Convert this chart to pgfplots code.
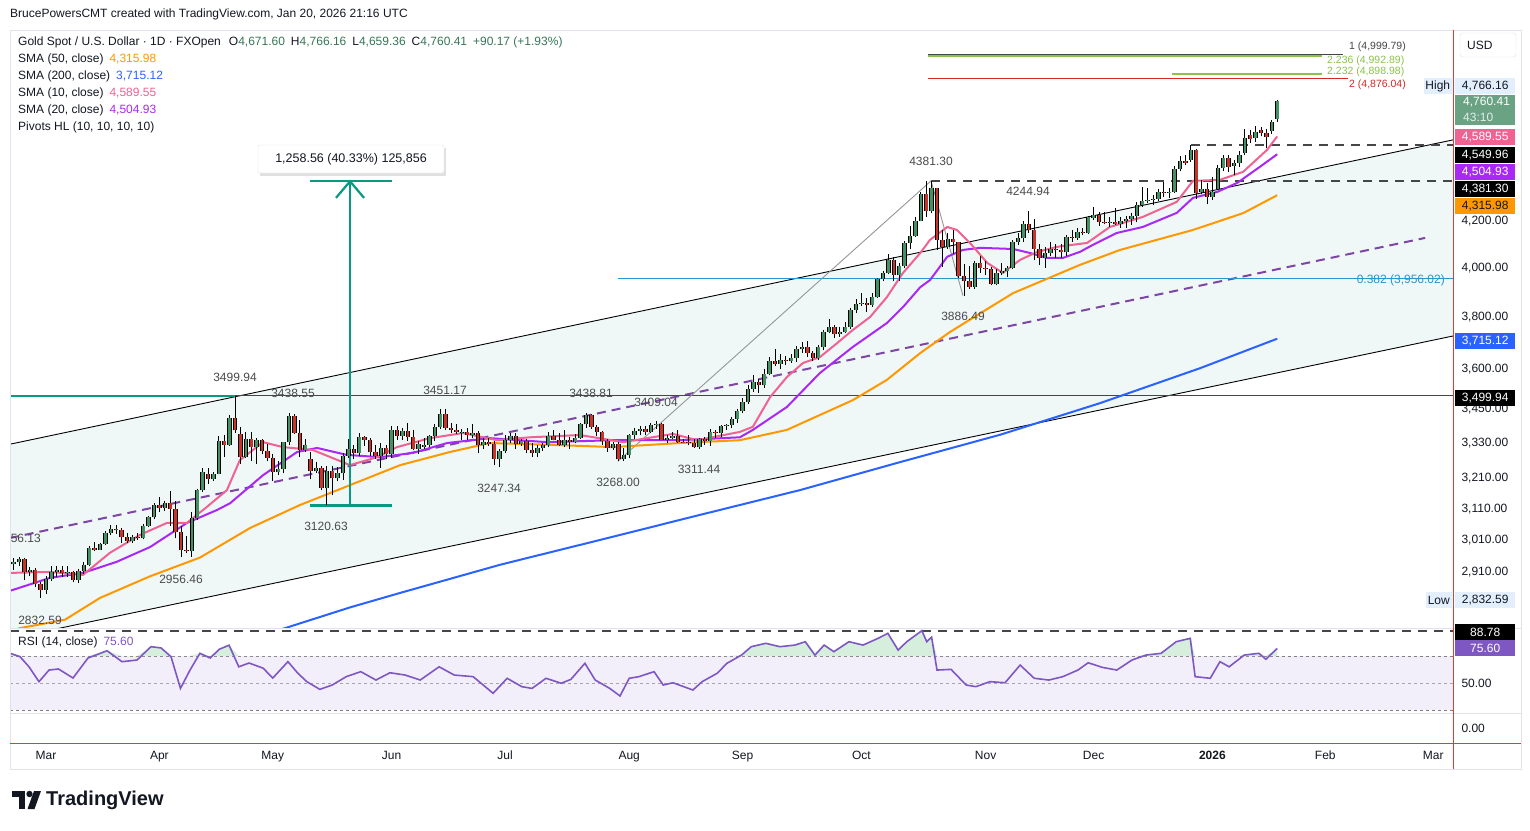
\documentclass[border=0pt]{standalone}
\usepackage{pgfplots}
\pgfplotsset{compat=1.18}
\usepackage{pgfplotstable}
\usepackage{fontspec}
\setmainfont{Liberation Sans}
\definecolor{tvtext}{RGB}{19,23,34}
\definecolor{tvgray}{RGB}{74,74,74}
\definecolor{cgreen}{RGB}{70,145,100}
\definecolor{cred}{RGB}{200,52,42}
\definecolor{smaA}{RGB}{255,152,0}
\definecolor{smaB}{RGB}{41,98,255}
\definecolor{smaC}{RGB}{240,98,146}
\definecolor{smaD}{RGB}{170,40,245}
\definecolor{midline}{RGB}{125,70,165}
\definecolor{chfill}{RGB}{240,247,247}
\definecolor{tvteal}{RGB}{8,153,129}
\definecolor{fibblue}{RGB}{41,150,205}
\definecolor{fibgreen}{RGB}{139,195,74}
\definecolor{fibred}{RGB}{210,40,40}
\definecolor{rsiline}{RGB}{126,87,194}
\definecolor{rsiband}{RGB}{243,239,250}
\definecolor{rsigreen}{RGB}{214,238,220}
\definecolor{frame}{RGB}{224,227,235}
\definecolor{hl}{RGB}{227,239,253}
\definecolor{curgreen}{RGB}{106,163,132}
\definecolor{ohlc}{RGB}{56,118,88}
\definecolor{dashc}{RGB}{70,70,70}
\definecolor{zig}{RGB}{150,150,150}
\definecolor{tvred}{RGB}{229,57,53}
\newcommand\tvf{\fontsize{12}{14}\selectfont}

\pgfplotstableread{
i o h l c
-6 2934 2954 2918 2940
-5 2940 2956.13 2928 2950
-4 2950 2955 2888 2912
-3 2912 2927 2898 2916
-2 2916 2922 2865 2874
-1 2874 2882 2832.59 2858
0 2858 2898 2845 2890
1 2890 2928 2884 2912
2 2912 2930 2895 2918
3 2918 2928 2895 2908
4 2908 2930 2897 2911
5 2911 2914 2880 2886
6 2886 2921 2878 2914
7 2914 2940 2905 2932
8 2932 2990 2928 2984
9 2984 3005 2975 2980
10 2980 3001 2978 2998
11 2998 3038 2994 3032
12 3032 3057 3025 3046
13 3046 3057 3029 3040
14 3040 3048 2999 3020
15 3020 3031 3000 3006
16 3006 3025 3000 3018
17 3018 3033 3010 3015
18 3015 3060 3012 3055
19 3055 3087 3052 3082
20 3082 3128 3076 3122
21 3122 3149 3100 3111
22 3111 3136 3103 3130
23 3130 3167 3054 3110
24 3110 3136 3015 3035
25 3035 3055 2956.46 2978
26 2978 3023 2968 2975
27 2975 3100 2957 3080
28 3080 3176 3073 3170
29 3170 3245 3165 3232
30 3225 3245 3193 3208
31 3208 3232 3200 3226
32 3226 3357 3224 3338
33 3338 3358 3284 3325
34 3325 3430 3322 3418
35 3418 3499.94 3366 3375
36 3362 3387 3260 3284
37 3284 3368 3280 3345
38 3345 3371 3268 3318
39 3318 3350 3260 3342
40 3342 3347 3292 3305
41 3305 3327 3268 3280
42 3280 3294 3202 3232
43 3232 3269 3222 3241
44 3241 3336 3228 3334
45 3334 3438.55 3324 3428
46 3428 3435 3364 3366
47 3366 3414 3282 3306
48 3306 3347 3300 3324
49 3275 3300 3207 3234
50 3234 3266 3227 3246
51 3246 3253 3170 3178
52 3178 3252 3120.63 3236
53 3236 3252 3154 3210
54 3210 3250 3200 3228
55 3228 3295 3204 3286
56 3286 3345 3280 3312
57 3312 3325 3277 3295
58 3295 3365 3287 3352
59 3352 3357 3321 3340
60 3340 3350 3285 3300
61 3300 3325 3277 3288
62 3288 3330 3245 3315
63 3315 3325 3275 3292
64 3292 3392 3280 3378
65 3378 3392 3343 3355
66 3355 3385 3343 3372
67 3372 3403 3339 3352
68 3352 3375 3307 3310
69 3310 3338 3293 3326
70 3318 3349 3310 3325
71 3325 3360 3316 3355
72 3355 3398 3339 3386
73 3386 3451.17 3380 3432
74 3432 3452 3378 3384
75 3384 3403 3366 3376
76 3376 3399 3362 3368
77 3368 3380 3340 3371
78 3371 3385 3340 3360
79 3360 3398 3348 3366
80 3366 3372 3295 3323
81 3323 3348 3311 3333
82 3333 3350 3322 3327
83 3327 3337 3255 3274
84 3274 3309 3247.34 3303
85 3303 3358 3298 3340
86 3340 3365 3330 3357
87 3357 3365 3311 3326
88 3326 3345 3322 3337
89 3337 3345 3296 3308
90 3308 3330 3283 3298
91 3298 3325 3282 3313
92 3313 3330 3305 3325
93 3325 3368 3318 3355
94 3355 3375 3340 3343
95 3343 3366 3320 3324
96 3324 3377 3319 3340
97 3340 3353 3310 3336
98 3336 3361 3330 3350
99 3350 3402 3345 3397
100 3397 3438.81 3384 3431
101 3431 3433 3381 3387
102 3387 3394 3355 3368
103 3368 3373 3325 3337
104 3337 3345 3301 3314
105 3314 3333 3308 3326
106 3326 3334 3268.00 3275
107 3275 3315 3270 3289
108 3289 3363 3281 3360
109 3360 3385 3347 3373
110 3373 3390 3358 3380
111 3380 3390 3358 3369
112 3369 3400 3365 3396
113 3396 3409.04 3380 3398
114 3398 3403 3340 3343
115 3343 3358 3331 3348
116 3348 3370 3345 3356
117 3356 3375 3331 3336
118 3336 3345 3330 3334
119 3334 3358 3323 3331
120 3331 3345 3315 3316
121 3316 3350 3311.44 3347
122 3347 3351 3325 3339
123 3339 3379 3321 3371
124 3371 3376 3350 3365
125 3365 3394 3351 3391
126 3391 3399 3377 3396
127 3396 3423 3385 3415
128 3415 3453 3401 3446
129 3446 3490 3436 3478
130 3478 3540 3470 3524
131 3524 3578 3515 3552
132 3552 3563 3510 3538
133 3538 3600 3530 3582
134 3582 3646 3575 3630
135 3630 3674 3610 3618
136 3618 3656 3600 3634
137 3634 3649 3614 3628
138 3628 3655 3621 3640
139 3640 3685 3626 3674
140 3674 3703 3660 3684
141 3684 3707 3645 3658
142 3658 3666 3628 3642
143 3642 3690 3635 3682
144 3682 3750 3670 3742
145 3742 3791 3737 3760
146 3760 3768 3717 3732
147 3732 3760 3722 3743
148 3743 3782 3738 3760
149 3760 3835 3755 3830
150 3830 3872 3818 3852
151 3852 3895 3845 3858
152 3858 3875 3820 3848
153 3848 3898 3840 3880
154 3880 3960 3878 3955
155 3955 3990 3944 3980
156 3980 4059 3975 4035
157 4035 4045 3945 3973
158 3973 4022 3946 4008
159 4008 4116 4000 4104
160 4104 4180 4080 4134
161 4134 4218 4130 4202
162 4202 4330 4200 4320
163 4320 4379 4220 4246
164 4246 4381.30 4235 4348
165 4348 4350 4076 4120
166 4120 4160 4004 4090
167 4090 4150 4080 4122
168 4122 4162 4060 4110
169 4110 4112 3958 3968
170 3968 4018 3886.49 3945
171 3945 4010 3915 3922
172 3922 4030 3915 4022
173 4022 4050 3980 4000
174 4000 4030 3970 3996
175 3996 4005 3928 3932
176 3932 3995 3928 3978
177 3978 4020 3970 3986
178 3986 4010 3965 4000
179 4000 4118 3995 4110
180 4110 4150 4095 4125
181 4125 4200 4110 4190
182 4190 4244.94 4150 4164
183 4164 4211 4032 4080
184 4080 4100 4013 4042
185 4042 4090 4000 4062
186 4062 4110 4050 4078
187 4078 4100 4040 4074
188 4074 4100 4040 4066
189 4066 4140 4050 4130
190 4130 4160 4110 4126
191 4126 4170 4120 4155
192 4155 4170 4140 4150
193 4150 4225 4145 4218
194 4215 4264 4205 4228
195 4228 4240 4181 4196
196 4196 4241 4187 4192
197 4192 4218 4176 4198
198 4198 4259 4185 4190
199 4190 4220 4172 4200
200 4200 4225 4170 4212
201 4212 4236 4185 4225
202 4225 4286 4195 4274
203 4274 4353 4262 4292
204 4292 4350 4280 4296
205 4296 4315 4270 4300
206 4300 4345 4290 4332
207 4332 4375 4310 4325
208 4325 4350 4305 4330
209 4330 4448 4325 4435
210 4435 4498 4425 4472
211 4475 4500 4455 4465
212 4478 4549.96 4470 4525
213 4525 4530 4300 4325
214 4330 4385 4320 4342
215 4342 4370 4275 4310
216 4310 4400 4295 4332
217 4345 4455 4340 4440
218 4440 4500 4425 4487
219 4487 4500 4420 4446
220 4448 4480 4410 4466
221 4466 4520 4445 4501
222 4512 4626 4500 4584
223 4597 4621 4560 4576
224 4581 4640 4565 4613
225 4621 4637 4590 4605
226 4608 4625 4533 4587
227 4618 4670 4600 4658
228 4671.60 4766.16 4659.36 4760.41
}\candles

\pgfplotstableread{
i r
-6.67 72
-4.81 69.5
-3.15 62
-1.3 51
0.56 59.6
2.31 60.4
5 53.7
7.78 68.5
11.3 73.9
14.07 65.8
16.85 67
19.44 76.9
21.3 76
23.15 69.5
24.9 46
26.67 59.6
28.5 72
30.4 68.5
32.1 75
33.9 78
35.7 62
37.6 64.8
40.2 61
42 53.7
44.8 65.8
46.6 57.4
48.3 51
50.7 45.3
53 48.5
55.6 54.7
58.3 58.4
61.1 52.2
63.7 57.6
66.5 55.9
69.3 52.2
72.8 62
75.6 55.9
79.1 54.7
82.8 42.4
85.4 53.5
88.1 47.3
90 46
92.6 53.5
95.4 49.8
97.2 52.7
99.8 64.6
101.7 52.2
104.4 46
106.3 40.4
108 53.5
109.8 54.7
112.6 58.4
114.3 48.5
116.1 50.2
119.8 44.8
121.5 51
124.3 57.2
126.1 64.6
128.8 70.7
130.6 76.9
133.3 79.4
135.9 76.9
138.7 78.1
140.6 80.6
142.4 70.7
144.1 78.1
145.9 73.2
148.7 80.6
151.3 78.1
154.1 83.1
155.9 86.8
157.8 74.4
159.4 80.6
162.2 88.78
163.1 80.6
164 84
165 59.6
167.6 60.1
170.4 48.5
172.2 47.3
174.8 51
177.6 50.2
180.4 63.3
183 53.5
185.7 52.2
188.3 54.7
191.1 59.6
193 65
195.6 61.6
198.3 59.6
201.1 67
203.7 70.7
206.5 72
209.3 80.6
211.9 83.1
212.8 54.7
215.6 53.5
217.4 65.8
219.1 62
221.9 70.7
224.6 72
225.9 67.6
228 75.6
}\rsi

% ---- build candle segment lists from the table ----
\pgfplotstablegetrowsof{\candles}
\pgfmathtruncatemacro\NC{\pgfplotsretval-1}
\gdef\wicks{}\gdef\gbodies{}\gdef\rbodies{}
\pgfplotsforeachungrouped \k in {0,...,\NC}{%
  \pgfplotstablegetelem{\k}{i}\of\candles \let\ci\pgfplotsretval
  \pgfplotstablegetelem{\k}{o}\of\candles \let\co\pgfplotsretval
  \pgfplotstablegetelem{\k}{h}\of\candles \let\ch\pgfplotsretval
  \pgfplotstablegetelem{\k}{l}\of\candles \let\cl\pgfplotsretval
  \pgfplotstablegetelem{\k}{c}\of\candles \let\cc\pgfplotsretval
  \xdef\wicks{\wicks (\ci,\cl) (\ci,\ch) (\ci,nan)}%
  \ifdim\cc pt<\co pt
    \xdef\rbodies{\rbodies (\ci,\cc) (\ci,\co) (\ci,nan)}%
  \else
    \xdef\gbodies{\gbodies (\ci,\co) (\ci,\cc) (\ci,nan)}%
  \fi
}

\begin{document}
\begin{tikzpicture}[x=1pt,y=1pt]
\useasboundingbox (0,0) rectangle (1530,-830);
\fill[white] (0,0) rectangle (1530,-830);

% ---------------- price pane ----------------
\begin{axis}[
  at={(10pt,-628pt)}, anchor=south west,
  width=1443pt, height=598pt, scale only axis,
  xmin=-6.667, xmax=260.56,
  ymode=log, ymin=2745.5, ymax=5130.2,
  axis line style={draw=none}, tick style={draw=none},
  xtick=\empty,
  ytick={2910,3010,3110,3210,3330,3450,3600,3800,4000,4200},
  yticklabels={{2,910.00},{3,010.00},{3,110.00},{3,210.00},{3,330.00},{3,450.00},{3,600.00},{3,800.00},{4,000.00},{4,200.00}},
  yticklabel pos=right,
  yticklabel style={font=\tvf, text=tvtext, anchor=west, xshift=5pt},
  unbounded coords=jump,
]
% channel fill
\addplot[fill=chfill, draw=none] coordinates {(-6.667,3327) (260.56,4573) (260.56,3725.6) (-6.667,2715)} -- cycle;
% channel lines
\addplot[black, line width=0.9pt] coordinates {(-6.667,3327) (260.56,4573)};
\addplot[black, line width=0.9pt] coordinates {(-6.667,2715) (260.56,3725.6)};
\addplot[midline, line width=2pt, dash pattern=on 9pt off 6pt] coordinates {(-6.667,3016.3) (255.4,4127.6)};
% horizontal levels
\addplot[tvteal, line width=2.2pt] coordinates {(-6.667,3499.94) (35,3499.94)};
\addplot[dashc, line width=1.3pt] coordinates {(35,3499.94) (260.56,3499.94)};
\addplot[fibblue, line width=1.6pt] coordinates {(105.9,3956.02) (260.56,3956.02)};
\addplot[dashc, line width=2pt, dash pattern=on 9pt off 7pt] coordinates {(163.9,4381.30) (260.56,4381.30)};
\addplot[dashc, line width=2pt, dash pattern=on 9pt off 7pt] coordinates {(212,4549.96) (260.56,4549.96)};
% fib extension lines
\addplot[fibgreen, line width=1.8pt] coordinates {(163.3,4992.89) (236.3,4992.89)};
\addplot[dashc, line width=1.8pt] coordinates {(163.3,4999.79) (240.2,4999.79)};
\addplot[fibred, line width=1.8pt] coordinates {(163.3,4876.04) (241.1,4876.04)};
\addplot[fibgreen, line width=1.8pt] coordinates {(208.5,4898.98) (236.3,4898.98)};
% zigzag
\addplot[zig, line width=0.9pt] coordinates {(105.9,3268.00) (163.9,4381.30) (169.8,3886.49)};
% moving averages
\addplot[smaB, line width=2pt] coordinates {(41.5,2732) (44.3,2745) (56.3,2805) (65.6,2848) (84.1,2933) (102.6,3010) (121.1,3090) (139.6,3171) (158.1,3265) (176.7,3360) (195.2,3473) (213.7,3602) (228,3715.12)};
\addplot[smaA, line width=2pt] coordinates {(-6.67,2735) (-4.8,2745) (3.5,2769) (10,2833) (19.3,2898) (28.5,2955) (37.8,3048) (47,3122) (58.7,3205) (65.6,3255) (74.8,3300) (82.2,3331) (93.3,3325) (105,3317) (117.4,3331) (128.5,3341) (137.2,3377) (149.4,3484) (155.7,3558) (161.9,3660) (167.4,3741) (179.1,3897) (191.5,4013) (198.9,4076) (212.4,4162) (221.7,4236) (228,4315.98)};
\addplot[smaD, line width=2pt] coordinates {(-6.67,2854) (0.74,2893) (6.85,2908) (13.1,2942) (19.3,2988) (26.1,3064) (31.7,3106) (34.1,3128) (40.2,3221) (46.5,3300) (50.2,3314) (55.7,3290) (61.9,3282) (68,3297) (74.3,3331) (82.2,3348) (92.8,3334) (105,3341) (117.4,3341) (128.5,3351) (130.9,3377) (137.2,3459) (143.3,3584) (149.4,3683) (155.7,3776) (158.7,3840) (161.9,3921) (163.7,3950) (166.9,4047) (169.8,4076) (173,4085) (179.1,4080) (182.2,4063) (185.4,4042) (188.3,4042) (191.5,4068) (193.9,4098) (198.3,4149) (203.1,4175) (209.4,4237) (212.4,4304) (216.9,4331) (220.6,4372) (224.8,4446) (228,4504.93)};
\addplot[smaC, line width=2pt] coordinates {(-6.67,2908) (0.74,2911) (6.85,2902) (11.85,2970) (17.4,3026) (22.4,3064) (26.1,3064) (29.8,3116) (33.5,3171) (35.9,3272) (40.2,3334) (43.9,3317) (49.4,3307) (56.3,3255) (61.3,3282) (65,3317) (71.1,3348) (77.2,3366) (83.5,3341) (89.6,3351) (98.9,3359) (106.9,3334) (116.1,3363) (120.6,3341) (128.5,3370) (130.9,3388) (134.1,3495) (137.2,3569) (140.2,3622) (143.3,3644) (146.5,3698) (149.4,3749) (152.6,3800) (155.7,3880) (158.7,3980) (161.9,4063) (163.7,4119) (166.9,4175) (168.7,4162) (171.1,4106) (174.3,4021) (177.2,3980) (180.4,4034) (183.5,4067) (187.2,4089) (192.8,4106) (197,4175) (203.1,4219) (209.4,4286) (212.4,4381) (217.4,4386) (221.7,4423) (226.1,4525) (228,4589.55)};
% price range measure
\addplot[tvteal, line width=2.2pt] coordinates {(56.3,3120.63) (56.3,4379.19)};
\addplot[tvteal, line width=2.2pt] coordinates {(48.9,3120.63) (64.1,3120.63)};
\addplot[tvteal, line width=2.2pt] coordinates {(48.9,4379.19) (64.1,4379.19)};
\addplot[tvteal, line width=2.2pt] coordinates {(53.7,4304) (56.3,4379.19) (58.9,4304)};
% candles
\edef\tmp{\noexpand\addplot[black, line width=1pt] coordinates {\wicks};}\tmp
\edef\tmp{\noexpand\addplot[black, line width=4.4pt] coordinates {\gbodies};}\tmp
\edef\tmp{\noexpand\addplot[black, line width=4.4pt] coordinates {\rbodies};}\tmp
\edef\tmp{\noexpand\addplot[cgreen, line width=2.6pt] coordinates {\gbodies};}\tmp
\edef\tmp{\noexpand\addplot[cred, line width=2.6pt] coordinates {\rbodies};}\tmp
\end{axis}

% ---------------- RSI pane ----------------
\begin{axis}[
  at={(10pt,-713pt)}, anchor=south west,
  width=1443pt, height=85pt, scale only axis,
  xmin=-6.667, xmax=260.56, ymin=27.78, ymax=90.74,
  axis line style={draw=none}, tick style={draw=none}, xtick=\empty,
  ytick={50}, yticklabels={50.00}, yticklabel pos=right,
  yticklabel style={font=\tvf, text=tvtext, anchor=west, xshift=5pt},
]
\addplot[fill=rsiband, draw=none] coordinates {(-6.667,30) (260.56,30) (260.56,70) (-6.667,70)} -- cycle;
\addplot[gray, line width=0.8pt, dash pattern=on 3pt off 3pt] coordinates {(-6.667,70) (260.56,70)};
\addplot[gray!70, line width=0.8pt, dash pattern=on 3pt off 3pt] coordinates {(-6.667,50) (260.56,50)};
\addplot[gray, line width=0.8pt, dash pattern=on 3pt off 3pt] coordinates {(-6.667,30) (260.56,30)};
\addplot[dashc, line width=2pt, dash pattern=on 9pt off 7pt] coordinates {(-6.667,88.78) (260.56,88.78)};
\addplot[fill=rsigreen, draw=none] table[x=i, y expr={max(\thisrow{r},70)}] {\rsi} -- (axis cs:228,70) -- (axis cs:-6.67,70) -- cycle;
\addplot[rsiline, line width=1.6pt] table[x=i, y=r] {\rsi};
\end{axis}

% ---------------- bottom strip with date axis ----------------
\begin{axis}[
  at={(10pt,-743pt)}, anchor=south west,
  width=1443pt, height=30pt, scale only axis,
  xmin=-6.667, xmax=260.56, ymin=0, ymax=1,
  axis line style={draw=none}, tick style={draw=none},
  xtick={0,21,42,64,85,108,129,151,174,194,216,236.9,256.9},
  xticklabels={Mar,Apr,May,Jun,Jul,Aug,Sep,Oct,Nov,Dec,\textbf{2026},Feb,Mar},
  xticklabel style={font=\tvf, text=tvtext, anchor=base, yshift=-16pt},
  ytick={0.5}, yticklabels={0.00}, yticklabel pos=right,
  yticklabel style={font=\tvf, text=tvtext, anchor=west, xshift=5pt},
]
\addplot[draw=none] coordinates {(0,0.5)};
\end{axis}

\begin{scope}[yscale=-1]
% ---------------- frame & separators ----------------
\draw[frame, line width=1pt] (10,30) rectangle (1521,769);
\draw[frame, line width=1pt] (10,628) -- (1521,628);
\draw[frame, line width=1pt] (10,713) -- (1521,713);
\draw[tvred, line width=1pt] (1453,30) -- (1453,769);
\draw[tvred, line width=1pt] (10,743) -- (1521,743);

% ---------------- text on the chart ----------------
\begin{scope}[every node/.style={font=\tvf, text=tvgray, inner sep=0pt}]
\node[anchor=east] at (41,538) {56.13};
\node at (40,620) {2832.59};
\node at (181,579) {2956.46};
\node at (235,377) {3499.94};
\node at (293,393) {3438.55};
\node at (326,526) {3120.63};
\node at (445,390) {3451.17};
\node at (499,488) {3247.34};
\node at (591,393) {3438.81};
\node at (618,482) {3268.00};
\node at (656,402) {3409.04};
\node at (699,469) {3311.44};
\node at (931,161) {4381.30};
\node at (963,316) {3886.49};
\node at (1028,191) {4244.94};
\end{scope}
\node[font=\tvf, text=fibblue, anchor=east, inner sep=0pt] at (1445,280) {0.382 (3,956.02)};
\begin{scope}[every node/.style={font=\fontsize{10.5}{12}\selectfont, anchor=west, inner sep=0pt}]
\node[text=dashc] at (1349,47) {1 (4,999.79)};
\node[text=fibgreen] at (1327,61) {2.236 (4,992.89)};
\node[text=fibgreen] at (1327,72) {2.232 (4,898.98)};
\node[text=fibred] at (1349,85) {2 (4,876.04)};
\end{scope}

% measure label
\fill[black!12] (260,148) rectangle (446,176);
\node[draw=frame, fill=white, rounded corners=2pt, minimum width=186pt, minimum height=28pt, inner sep=0pt, font=\fontsize{12.5}{14}\selectfont, text=tvtext] at (351,159) {1,258.56 (40.33\%) 125,856};

% ---------------- right axis labels ----------------
\newcommand\pbox[4]{\node[fill=#2, text=#3, anchor=west, minimum width=60pt, minimum height=16pt, inner sep=0pt, font=\tvf] at (1455,#1) {#4};}
\node[draw=frame, rounded corners=3pt, minimum width=56pt, minimum height=24pt, inner sep=0pt] at (1488,45) {};
\node[font=\tvf, text=tvtext, anchor=west, inner sep=0pt] at (1467,45) {USD};
\node[fill=hl, text=tvtext, anchor=east, minimum width=28pt, minimum height=16pt, inner sep=0pt, font=\tvf] at (1452,86) {High};
\pbox{86}{hl}{tvtext}{4,766.16}
\fill[curgreen] (1455,95) rectangle (1515,125);
\node[font=\tvf, text=white, anchor=west, inner sep=0pt] at (1463,102) {4,760.41};
\node[font=\tvf, text=white!80!curgreen, anchor=west, inner sep=0pt] at (1463,117) {43:10};
\pbox{137}{smaC}{white}{4,589.55}
\pbox{155}{black}{white}{4,549.96}
\pbox{172}{smaD}{white}{4,504.93}
\pbox{189}{black}{white}{4,381.30}
\pbox{206}{smaA}{tvtext}{4,315.98}
\pbox{341}{smaB}{white}{3,715.12}
\pbox{398}{black}{white}{3,499.94}
\node[fill=hl, text=tvtext, anchor=east, minimum width=26pt, minimum height=16pt, inner sep=0pt, font=\tvf] at (1452,600) {Low};
\pbox{600}{hl}{tvtext}{2,832.59}
\pbox{632}{black}{white}{88.78}
\pbox{648}{rsiline}{white}{75.60}

% ---------------- legend ----------------
\begin{scope}[every node/.style={font=\tvf, text=tvtext, anchor=west, inner sep=0pt}]
\node at (10,14) {BrucePowersCMT created with TradingView.com, Jan 20, 2026 21:16 UTC};
\node at (18,42) {Gold Spot / U.S. Dollar · 1D · FXOpen\hspace{8pt}O\textcolor{ohlc}{4,671.60}\hspace{6pt}H\textcolor{ohlc}{4,766.16}\hspace{6pt}L\textcolor{ohlc}{4,659.36}\hspace{6pt}C\textcolor{ohlc}{4,760.41}\hspace{6pt}\textcolor{ohlc}{+90.17 (+1.93\%)}};
\node at (18,59) {SMA (50, close)\hspace{6pt}\textcolor{smaA}{4,315.98}};
\node at (18,76) {SMA (200, close)\hspace{6pt}\textcolor{smaB}{3,715.12}};
\node at (18,93) {SMA (10, close)\hspace{6pt}\textcolor{smaC}{4,589.55}};
\node at (18,110) {SMA (20, close)\hspace{6pt}\textcolor{smaD}{4,504.93}};
\node at (18,127) {Pivots HL (10, 10, 10, 10)};
\node at (18,642) {RSI (14, close)\hspace{6pt}\textcolor{rsiline}{75.60}};
\end{scope}

% ---------------- logo ----------------
\fill[tvtext] (12,791) rectangle (25,797);
\fill[tvtext] (18.5,791) rectangle (24.5,809);
\fill[tvtext] (29.5,794) circle (3.2);
\fill[tvtext] (34,791) -- (41,791) -- (34.5,809) -- (27.5,809) -- cycle;
\node[font=\fontsize{20}{22}\selectfont\bfseries, text=tvtext, anchor=west, inner sep=0pt] at (46,800) {TradingView};
\end{scope}
\end{tikzpicture}
\end{document}
